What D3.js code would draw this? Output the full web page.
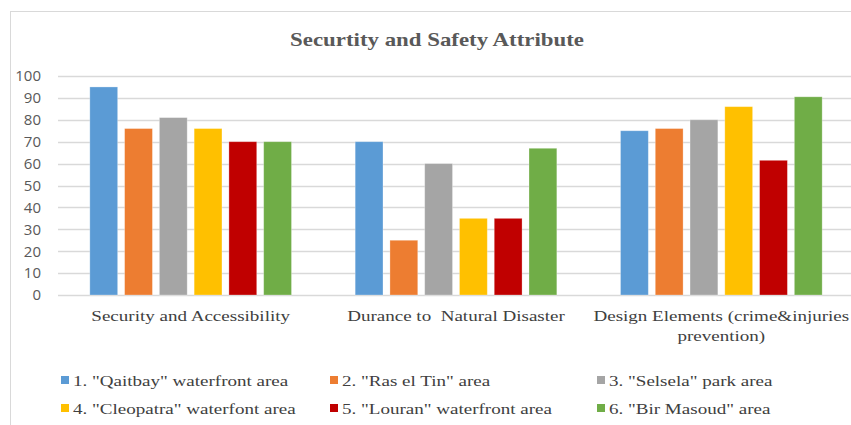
<!DOCTYPE html>
<html>
<head>
<meta charset="utf-8">
<script src="https://cdn.jsdelivr.net/npm/d3@7/dist/d3.min.js"></script>
<style>
  html, body { margin: 0; padding: 0; background: #fff; }
  svg { display: block; }
  text { white-space: pre; }
</style>
</head>
<body>
<svg id="chart" width="851" height="425"></svg>
<script>
const categories = [
  ["Security and Accessibility"],
  ["Durance to  Natural Disaster"],
  ["Design Elements (crime&injuries", "prevention)"]
];
const seriesNames = [
  '1. "Qaitbay" waterfront area',
  '2. "Ras el Tin" area',
  '3. "Selsela" park area',
  '4. "Cleopatra" waterfont area',
  '5. "Louran" waterfront area',
  '6. "Bir Masoud" area'
];
const seriesValues = [
  [95, 70, 75],
  [76, 25, 76],
  [81, 60, 80],
  [76, 35, 86],
  [70, 35, 61.5],
  [70, 67, 90.5]
];
const colors = ["#5B9BD5", "#ED7D31", "#A5A5A5", "#FFC000", "#C00000", "#70AD47"];
const yTicks = [0, 10, 20, 30, 40, 50, 60, 70, 80, 90, 100];
const title = "Securtity and Safety Attribute";

const svg = d3.select("#chart");
const SERIF = "'Liberation Serif', 'Times New Roman', serif";
const STRETCH = 1.27;

// chart frame
svg.append("rect")
  .attr("x", 10.5).attr("y", 11.5)
  .attr("width", 860).attr("height", 430)
  .attr("fill", "#fff").attr("stroke", "#d9d9d9").attr("stroke-width", 1);

const plot = { left: 58, right: 854, top: 76, bottom: 295 };

const y = d3.scaleLinear().domain([0, 100]).range([plot.bottom, plot.top]);
const x0 = d3.scaleBand().domain(d3.range(categories.length))
  .range([plot.left, plot.right]).paddingInner(0.24).paddingOuter(0.12);
const x1 = d3.scaleBand().domain(d3.range(seriesNames.length))
  .range([0, x0.bandwidth()]).paddingInner(0.2);

// gridlines
svg.append("g")
  .selectAll("line")
  .data(yTicks)
  .join("line")
  .attr("x1", plot.left).attr("x2", 851)
  .attr("y1", d => Math.round(y(d)) + 0.5).attr("y2", d => Math.round(y(d)) + 0.5)
  .attr("stroke", "#d9d9d9").attr("stroke-width", 1.5);

// y axis labels
const yAxis = d3.axisLeft(y).tickValues(yTicks).tickSize(0).tickPadding(0);
const ya = svg.append("g").attr("transform", `translate(41,0)`).call(yAxis);
ya.select(".domain").remove();
ya.selectAll("text")
  .attr("font-family", "'Open Sans', 'Liberation Sans', sans-serif")
  .attr("font-size", 15)
  .attr("fill", "#595959");

// bars
const groups = svg.append("g")
  .selectAll("g")
  .data(categories.map((c, i) => i))
  .join("g")
  .attr("transform", i => `translate(${x0(i)},0)`);

groups.selectAll("rect")
  .data(i => seriesValues.map((vals, s) => ({ s, v: vals[i] })))
  .join("rect")
  .attr("x", d => x1(d.s))
  .attr("width", x1.bandwidth())
  .attr("y", d => y(d.v))
  .attr("height", d => y(0) - y(d.v))
  .attr("fill", d => colors[d.s])
  .attr("stroke", "#ffffff").attr("stroke-opacity", 0.35).attr("stroke-width", 0.8);

// category labels
const catG = svg.append("g");
categories.forEach((lines, i) => {
  const cx = x0(i) + x0.bandwidth() / 2;
  const t = catG.append("text")
    .attr("transform", `translate(${cx},321) scale(${STRETCH},1)`)
    .attr("text-anchor", "middle")
    .attr("font-family", SERIF)
    .attr("font-size", 15)
    .attr("fill", "#404040");
  lines.forEach((ln, k) => {
    t.append("tspan").attr("x", 0)
      .attr("dy", k === 0 ? 0 : 20.5).text(ln);
  });
});

// title
svg.append("text")
  .attr("transform", `translate(437,46) scale(${STRETCH},1)`)
  .attr("text-anchor", "middle")
  .attr("font-family", SERIF)
  .attr("font-weight", "bold")
  .attr("font-size", 18)
  .attr("fill", "#595959")
  .text(title);

// legend
const legX = [61, 330, 597];
const legY = [380, 408];
const leg = svg.append("g");
seriesNames.forEach((name, i) => {
  const col = i % 3, row = Math.floor(i / 3);
  const g = leg.append("g").attr("transform", `translate(${legX[col]},${legY[row]})`);
  g.append("rect").attr("x", 0).attr("y", -4).attr("width", 8).attr("height", 8)
    .attr("fill", colors[i]);
  g.append("text")
    .attr("transform", `translate(12,5.5) scale(${STRETCH},1)`)
    .attr("font-family", SERIF)
    .attr("font-size", 15)
    .attr("fill", "#404040")
    .text(name);
});
</script>
</body>
</html>
